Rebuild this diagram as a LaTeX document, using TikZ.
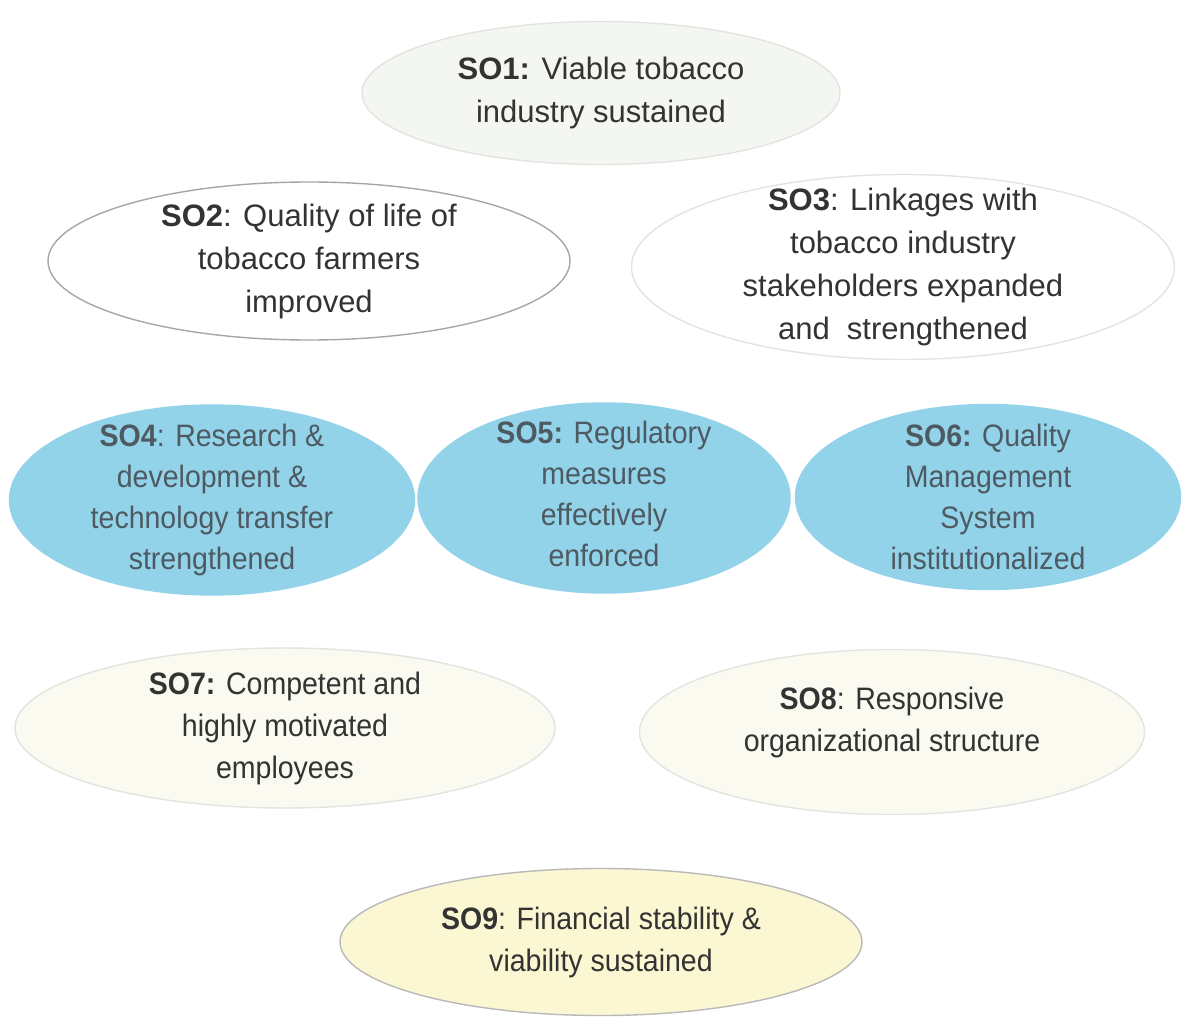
\documentclass[tikz,border=0pt]{standalone}
\usepackage{fontspec}
\setmainfont{Liberation Sans}
\newfontfamily\narrowsans[FakeStretch=0.92]{Liberation Sans}
\usetikzlibrary{shapes.geometric}
\definecolor{topfill}{HTML}{F4F6F2}
\definecolor{lightline}{HTML}{E2E4E0}
\definecolor{blueoval}{HTML}{92D3EA}
\definecolor{creamfill}{HTML}{FBFAF0}
\definecolor{yellowfill}{HTML}{FAF7D2}
\definecolor{darktext}{HTML}{333333}
\definecolor{bluetext}{HTML}{4E5A62}
\tikzstyle{goal} = [ellipse, inner sep=0pt, line width=0.7pt, draw=lightline]
\tikzstyle{toptext} = [align=center, text=darktext, font=\fontsize{15.5}{21.5}\selectfont]
\tikzstyle{midtext} = [align=center, text=bluetext, font=\narrowsans\fontsize{15.5}{20.5}\selectfont]
\tikzstyle{lowtext} = [align=center, text=darktext, font=\narrowsans\fontsize{15.5}{21}\selectfont]

\begin{document}
\begin{tikzpicture}[x=0.5pt,y=-0.5pt]
    \useasboundingbox (0,0) rectangle (1183,1027);
    % top row
    \node (so1)[goal, fill=topfill, minimum width=239pt, minimum height=71.5pt] at (601,93) {};
    \node (so1t)[toptext] at (so1) {\textbf{SO1:} Viable tobacco\\industry sustained};
    \node (so2)[goal, fill=white, draw=gray!70, minimum width=261pt, minimum height=79pt] at (309,261) {};
    \node (so2t)[toptext] at (so2) {\textbf{SO2}: Quality of life of\\tobacco farmers\\improved};
    \node (so3)[goal, fill=white, minimum width=271.5pt, minimum height=92.5pt] at (903,267) {};
    \node (so3t)[toptext] at (so3) {\textbf{SO3}: Linkages with\\tobacco industry\\stakeholders expanded\\and~ strengthened};
    % blue row
    \node (so4)[goal, fill=blueoval, draw=blueoval, minimum width=202.5pt, minimum height=95pt] at (212,500) {};
    \node (so4t)[midtext] at (so4) {\textbf{SO4}: Research \&\\development \&\\technology transfer\\strengthened};
    \node (so5)[goal, fill=blueoval, draw=blueoval, minimum width=186pt, minimum height=95pt] at (604,498) {};
    \node (so5t)[midtext, yshift=2pt] at (so5) {\textbf{SO5:} Regulatory\\measures\\effectively\\enforced};
    \node (so6)[goal, fill=blueoval, draw=blueoval, minimum width=192.5pt, minimum height=92.5pt] at (988,497) {};
    \node (so6t)[midtext] at (so6) {\textbf{SO6:} Quality\\Management\\System\\institutionalized};
    % lower rows
    \node (so7)[goal, fill=creamfill, minimum width=270pt, minimum height=80pt] at (285,728) {};
    \node (so7t)[lowtext] at (so7) {\textbf{SO7:} Competent and\\highly motivated\\employees};
    \node (so8)[goal, fill=creamfill, minimum width=252.5pt, minimum height=82.5pt] at (892,732) {};
    \node (so8t)[lowtext, yshift=5pt] at (so8) {\textbf{SO8}: Responsive\\organizational structure};
    \node (so9)[goal, fill=yellowfill, draw=gray!55, minimum width=261pt, minimum height=73.5pt] at (601,942) {};
    \node (so9t)[lowtext] at (so9) {\textbf{SO9}: Financial stability \&\\viability sustained};
\end{tikzpicture}
\end{document}
